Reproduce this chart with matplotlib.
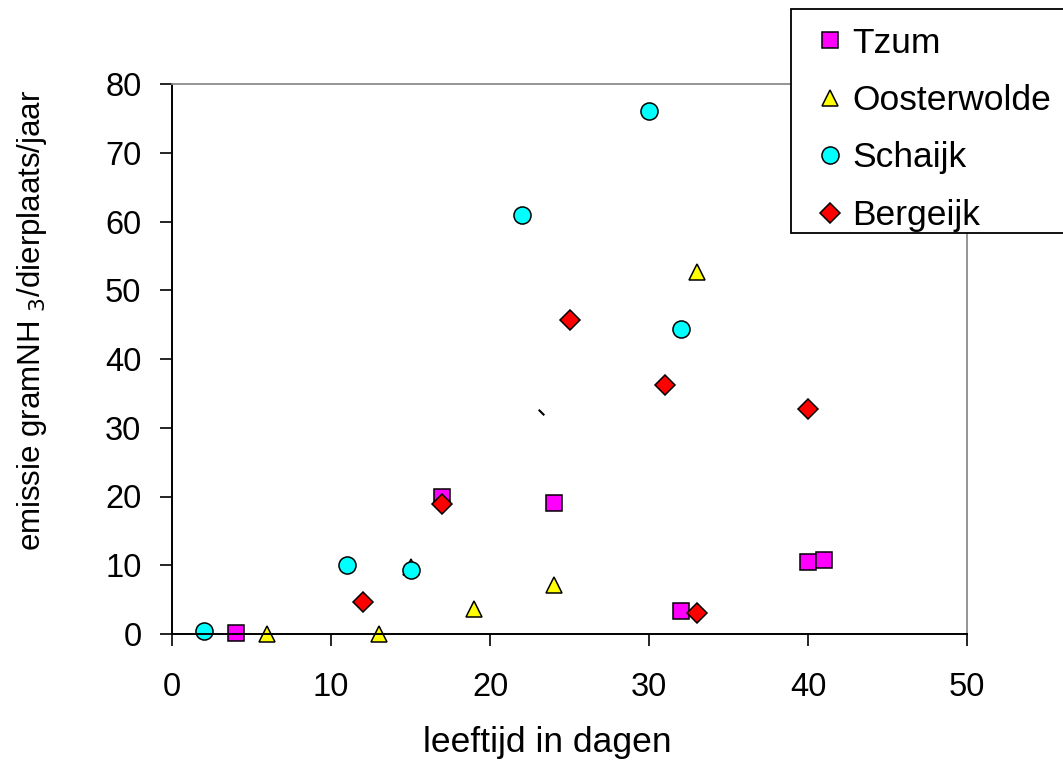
import matplotlib
matplotlib.use("Agg")
import matplotlib.pyplot as plt
from matplotlib.patches import Rectangle

plt.rcParams['font.family'] = ['Liberation Sans', 'DejaVu Sans']

# Data
tzum_x = [4, 17, 24, 32, 40, 41]
tzum_y = [0.2, 20.0, 19.0, 3.3, 10.5, 10.8]

oost_x = [6, 13, 15, 19, 24, 33]
oost_y = [0.0, 0.0, 9.8, 3.6, 7.1, 52.7]

schaijk_x = [2, 11, 15, 22, 30, 32]
schaijk_y = [0.4, 10.0, 9.3, 61.0, 76.1, 44.4]

berg_x = [12, 17, 25, 31, 33, 40]
berg_y = [4.6, 18.9, 45.7, 36.2, 3.0, 32.7]

stray_x = [23.2]
stray_y = [32.3]

series_names = ['Tzum', 'Oosterwolde', 'Schaijk', 'Bergeijk']
x_ticks = [0, 10, 20, 30, 40, 50]
y_ticks = [0, 10, 20, 30, 40, 50, 60, 70, 80]

W, H = 1063, 760
fig = plt.figure(figsize=(W / 100, H / 100), dpi=100)
ax = fig.add_axes([172 / W, 1 - 634 / H, 795 / W, 550 / H])

FS = 23.5
FS_LAB = 25.5
mew = 1.1
ax.plot(tzum_x, tzum_y, ls='none', marker='s', ms=11.8, mfc='#FF00FF', mec='black', mew=mew, label=series_names[0], clip_on=False)
ax.plot(oost_x, oost_y, ls='none', marker='^', ms=11, mfc='#FFFF00', mec='black', mew=mew, label=series_names[1], clip_on=False)
ax.plot(schaijk_x, schaijk_y, ls='none', marker='o', ms=12.3, mfc='#00FFFF', mec='black', mew=mew, label=series_names[2], clip_on=False)
ax.plot(berg_x, berg_y, ls='none', marker='D', ms=9.7, mfc='#FF0000', mec='black', mew=mew, label=series_names[3], clip_on=False)
ax.plot(stray_x, stray_y, ls='none', marker=[(-1, 1), (1, -1)], ms=4, mec='black', mew=1.5, label='_nolegend_')

ax.set_xlim(0, 50)
ax.set_ylim(0, 80)
ax.set_xticks(x_ticks)
ax.set_yticks(y_ticks)
ax.tick_params(axis='x', direction='out', length=8.5, width=1.2, pad=19, labelsize=FS)
ax.tick_params(axis='y', direction='out', length=9, width=1.2, pad=13, labelsize=FS)

for s in ['left', 'bottom']:
    ax.spines[s].set_color('black')
    ax.spines[s].set_linewidth(1.4)
for s in ['top', 'right']:
    ax.spines[s].set_color('#8c8c8c')
    ax.spines[s].set_linewidth(1.3)

fig.text(32 / W, 1 - 320 / H, 'emissie gramNH $_3$/dierplaats/jaar', rotation=90,
         ha='center', va='center', fontsize=22.5)
fig.text(547 / W, 1 - 752 / H, 'leeftijd in dagen', ha='center', va='baseline', fontsize=FS_LAB)

# legend box (opaque, extends beyond the right edge of the figure)
box = Rectangle((791 / W, 1 - 233 / H), (1090 - 791) / W, (233 - 9) / H,
                transform=fig.transFigure, facecolor='white', edgecolor='black',
                linewidth=1.3, clip_on=False, zorder=4)
ax.add_patch(box)

leg = ax.legend(loc='upper left', bbox_to_anchor=(791 / W, 1 - 16 / H), bbox_transform=fig.transFigure,
                borderaxespad=0, fontsize=FS_LAB, frameon=False, borderpad=0.3,
                handlelength=1.61, handletextpad=-0.19, labelspacing=0.69, numpoints=1)
leg.set_zorder(5)

fig.savefig('out.png', dpi=100)
